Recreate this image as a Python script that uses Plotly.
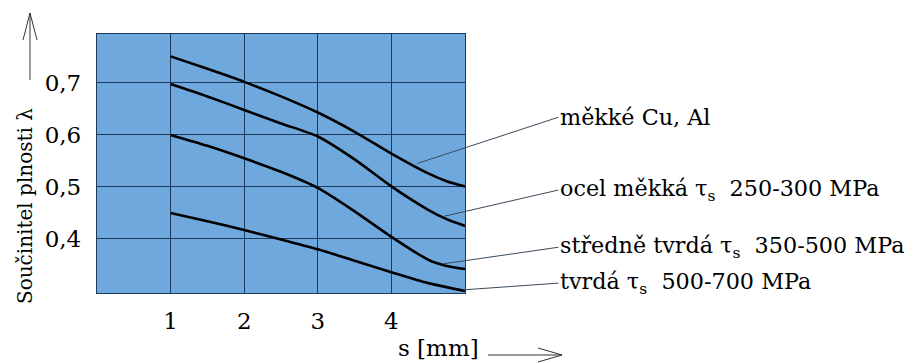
import plotly.graph_objects as go

# ---- data ----
s_cu = [1.0, 1.5, 2.0, 2.5, 3.0, 3.5, 4.0, 4.5, 4.75, 5.0]
lam_cu = [0.751, 0.727, 0.702, 0.674, 0.643, 0.606, 0.564, 0.526, 0.511, 0.501]

s_soft = [1.0, 1.5, 2.0, 2.5, 3.0, 3.5, 4.0, 4.5, 4.75, 5.0]
lam_soft = [0.698, 0.674, 0.648, 0.622, 0.597, 0.553, 0.501, 0.456, 0.438, 0.425]

s_mid = [1.0, 1.5, 2.0, 2.5, 3.0, 3.5, 4.0, 4.5, 4.75, 5.0]
lam_mid = [0.600, 0.579, 0.555, 0.529, 0.498, 0.453, 0.404, 0.360, 0.348, 0.342]

s_hard = [1.0, 1.5, 2.0, 2.5, 3.0, 3.5, 4.0, 4.5, 5.0]
lam_hard = [0.450, 0.434, 0.417, 0.399, 0.380, 0.358, 0.336, 0.315, 0.300]

series_names = [
    "měkké Cu, Al",
    "ocel měkká τ<sub>s</sub>\u00a0\u00a0250-300 MPa",
    "středně tvrdá τ<sub>s</sub>\u00a0\u00a0350-500 MPa",
    "tvrdá τ<sub>s</sub>\u00a0\u00a0500-700 MPa",
]
label_pts_s = [4.35, 4.70, 4.70, 4.97]
label_pts_lam = [0.545, 0.443, 0.352, 0.302]
label_txt_s = [6.27, 6.27, 6.27, 6.27]
label_txt_lam = [0.634, 0.494, 0.384, 0.315]

x_tickvals = [1, 2, 3, 4]
x_ticktext = ["1", "2", "3", "4"]
y_tickvals = [0.4, 0.5, 0.6, 0.7]
y_ticktext = ["0,4", "0,5", "0,6", "0,7"]

x_title = "s [mm]"
y_title = "Součinitel plnosti λ"

# ---- layout geometry ----
W, H = 916, 363
L, T, PW, PH = 97, 34, 368, 259
FONT = "DejaVu Serif"
FS = 23
FS_LAB = 22.3
FS_YT = 20
BG = "#6fa8dc"
GRID = "#1d3a5c"


def px2paper(px, py):
    return (px - L) / PW, 1 - (py - T) / PH


def path(points):
    pts = [px2paper(x, y) for x, y in points]
    return "M " + " L ".join(f"{x:.5f},{y:.5f}" for x, y in pts)


fig = go.Figure()
for sx, ly in [(s_cu, lam_cu), (s_soft, lam_soft), (s_mid, lam_mid), (s_hard, lam_hard)]:
    fig.add_trace(go.Scatter(x=sx, y=ly, mode="lines",
                             line=dict(color="black", width=2.6, shape="spline", smoothing=0.7),
                             showlegend=False, hoverinfo="skip"))

annotations = []
for name, px_, py_, tx, ty in zip(series_names, label_pts_s, label_pts_lam, label_txt_s, label_txt_lam):
    annotations.append(dict(
        x=px_, y=py_, xref="x", yref="y",
        ax=tx, ay=ty, axref="x", ayref="y",
        text=name, showarrow=True, arrowhead=0, arrowwidth=1, arrowcolor="#3a4a5a",
        xanchor="left", yanchor="middle", standoff=0, startstandoff=0,
        font=dict(family=FONT, size=FS_LAB, color="black"),
    ))

ax_, ay_ = px2paper(25, 206)
annotations.append(dict(x=ax_, y=ay_, xref="paper", yref="paper", text=y_title, showarrow=False,
                        textangle=-90, font=dict(family=FONT, size=FS_YT, color="black"),
                        xanchor="center", yanchor="middle"))
bx, by = px2paper(438, 348)
annotations.append(dict(x=bx, y=by, xref="paper", yref="paper", text=x_title, showarrow=False,
                        font=dict(family=FONT, size=FS, color="black"),
                        xanchor="center", yanchor="middle"))

shapes = [
    dict(type="path", xref="paper", yref="paper", path=path([(30, 80), (30, 13)]),
         line=dict(color="#333333", width=1)),
    dict(type="path", xref="paper", yref="paper", path=path([(23, 40), (30, 13), (37, 40)]),
         line=dict(color="#333333", width=1)),
    dict(type="path", xref="paper", yref="paper", path=path([(488, 355), (562, 355)]),
         line=dict(color="#333333", width=1)),
    dict(type="path", xref="paper", yref="paper", path=path([(538, 348), (562, 355), (538, 362)]),
         line=dict(color="#333333", width=1)),
]

fig.update_layout(
    width=W, height=H,
    margin=dict(l=L, r=W - L - PW, t=T, b=H - T - PH, pad=0),
    paper_bgcolor="white", plot_bgcolor=BG,
    font=dict(family=FONT, size=FS, color="black"),
    annotations=annotations, shapes=shapes,
    xaxis=dict(range=[0, 5], tickvals=x_tickvals, ticktext=x_ticktext,
               showgrid=True, gridcolor=GRID, gridwidth=1.3, zeroline=False,
               showline=True, linecolor=GRID, linewidth=1.3, mirror=True,
               ticks="outside", ticklen=7, tickcolor="rgba(0,0,0,0)",
               tickfont=dict(family=FONT, size=FS, color="black")),
    yaxis=dict(range=[0.296, 0.794], tickvals=y_tickvals, ticktext=y_ticktext,
               showgrid=True, gridcolor=GRID, gridwidth=1.3, zeroline=False,
               showline=True, linecolor=GRID, linewidth=1.3, mirror=True,
               ticks="outside", ticklen=10, tickcolor="rgba(0,0,0,0)",
               tickfont=dict(family=FONT, size=FS, color="black")),
)

fig.write_html("out.html", config={"displayModeBar": False},
               post_script="document.body.style.margin='0';document.body.style.overflow='hidden';")
